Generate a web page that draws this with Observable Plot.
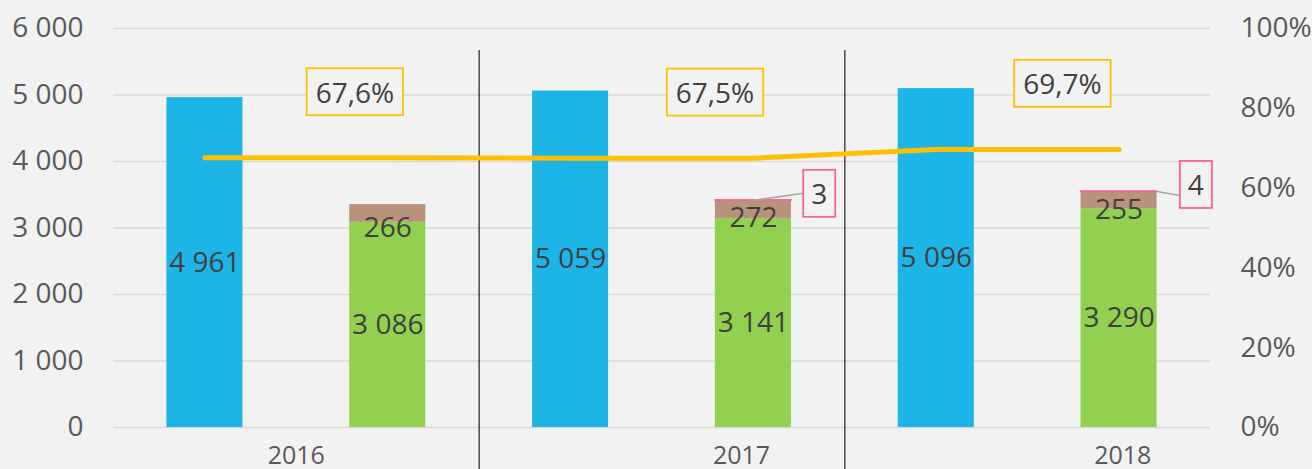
<!DOCTYPE html>
<html>
<head>
<meta charset="utf-8">
<script src="https://cdn.jsdelivr.net/npm/d3@7"></script>
<script src="https://cdn.jsdelivr.net/npm/@observablehq/plot@0.6"></script>
<style>
  html, body { margin: 0; padding: 0; background: #f2f2f2; }
  #chart { width: 1312px; height: 469px; overflow: hidden; }
</style>
</head>
<body>
<div id="chart"></div>
<script>
// ---- data ----
const years = ["2016", "2017", "2018"];
const blueValues = [4961, 5059, 5096];
const greenValues = [3086, 3141, 3290];
const brownValues = [266, 272, 255];
const pinkValues = [0, 3, 4];
const shareValues = [67.6, 67.5, 69.7];
const leftTicks = [0, 1000, 2000, 3000, 4000, 5000, 6000];
const rightTicks = [0, 20, 40, 60, 80, 100];

// ---- layout (not data) ----
const halfBar = 0.208;             // half bar width in slot units
const pctLabelShift = [-0.18, -0.21, -0.31];
const yearLabelShift = [-0.5, -0.065, 0.02];
const brownLabelDy = [15, 8.5, 10];
const pinkLabelShift = [0, 0.36, 0.42];
const yMax = 6000;
const pctToY = p => p / 100 * yMax;
const fmt = d => d3.format(",")(d).replace(/,/g, "\u00a0");

const W = 1312, H = 469, mL = 113, mR = 102, mT = 28, mB = 42;
const unitsPerPx = yMax / (H - mT - mB);

const blueRows = years.map((yr, i) => ({yr, c: 2 * i + 0.5, v: blueValues[i]}));
const stackRows = [];
years.forEach((yr, i) => {
  const c = 2 * i + 1.5;
  const g = greenValues[i], b = brownValues[i], p = pinkValues[i];
  stackRows.push({yr, c, s: "green", y1: 0, y2: g, v: g});
  stackRows.push({yr, c, s: "brown", y1: g, y2: g + b, v: b});
  if (p > 0) stackRows.push({yr, c, s: "pink", y1: g + b, y2: g + b + p, v: p});
});
const colors = {green: "#92d050", brown: "#b8927a", pink: "#f5668f"};
const linePts = [];
years.forEach((yr, i) => {
  linePts.push({x: 2 * i + 0.5, y: pctToY(shareValues[i])});
  linePts.push({x: 2 * i + 1.5, y: pctToY(shareValues[i])});
});
const pctLabels = years.map((yr, i) => ({x: 2 * i + 1.5 + pctLabelShift[i], y: pctToY(shareValues[i]), t: d3.format(".1f")(shareValues[i]).replace(".", ",") + "%"}));
const yearLabels = years.map((yr, i) => ({x: 2 * i + 1 + yearLabelShift[i] + 0.5, t: yr}));
const pinkLabels = years.map((yr, i) => ({i, yr, c: 2 * i + 1.5, top: greenValues[i] + brownValues[i] + pinkValues[i], v: pinkValues[i]})).filter(d => d.v > 0);

const plot = Plot.plot({
  width: W, height: H,
  marginLeft: mL, marginRight: mR, marginTop: mT, marginBottom: mB,
  style: {background: "#f2f2f2", fontFamily: "'Open Sans', sans-serif", fontSize: "28px", color: "#595959", overflow: "visible"},
  x: {domain: [0, 6], axis: null},
  y: {domain: [0, yMax]},
  marks: [
    Plot.ruleY(leftTicks, {stroke: "#d9d9d9", strokeWidth: 1.5}),
    Plot.axisY({anchor: "left", ticks: leftTicks, tickFormat: fmt, tickSize: 0, tickPadding: 30, label: null, fill: "#595959"}),
    Plot.axisY({anchor: "right", ticks: rightTicks.map(pctToY), tickFormat: d => Math.round(d / yMax * 100) + "%", tickSize: 0, tickPadding: 30, label: null, fill: "#595959"}),
    Plot.ruleX([2, 4], {stroke: "#222", strokeWidth: 1.2, insetTop: 22, insetBottom: -mB}),
    Plot.rect(blueRows, {x1: d => d.c - halfBar, x2: d => d.c + halfBar, y1: 0, y2: "v", fill: "#1db5e8"}),
    Plot.rect(stackRows, {x1: d => d.c - halfBar, x2: d => d.c + halfBar, y1: "y1", y2: "y2", fill: d => colors[d.s], stroke: d => d.s === "pink" ? colors.pink : "none", strokeWidth: 1.5}),
    Plot.line(linePts, {x: "x", y: "y", stroke: "#ffc000", strokeWidth: 5, strokeLinecap: "round"}),
    Plot.text(blueRows, {x: "c", y: d => d.v / 2, text: d => fmt(d.v), fill: "#404040", fontSize: 28}),
    Plot.text(stackRows.filter(d => d.s === "green"), {x: "c", y: d => d.v / 2, text: d => fmt(d.v), fill: "#404040", fontSize: 28}),
    Plot.text(stackRows.filter(d => d.s === "brown"), {x: "c", y: d => (d.y1 + d.y2) / 2 - brownLabelDy[years.indexOf(d.yr)] * unitsPerPx, text: d => fmt(d.v), fill: "#404040", fontSize: 28}),
    Plot.link(pinkLabels, {
      x1: d => d.i === 1 ? d.c : d.c + halfBar,
      y1: "top",
      x2: d => d.c + pinkLabelShift[d.i] - 0.088,
      y2: d => d.top + (d.i === 1 ? 7 : -4) * unitsPerPx,
      stroke: "#a6a6a6", strokeWidth: 1.5
    }),
    Plot.text(pinkLabels, {x: d => d.c + pinkLabelShift[d.i], y: "top", dy: -5, text: d => String(d.v), fill: "#404040", fontSize: 28}),
    Plot.text(pctLabels, {x: "x", y: "y", dy: -64, text: "t", fill: "#404040", fontSize: 28}),
    Plot.text(yearLabels, {x: "x", y: 0, dy: 28, text: "t", fill: "#595959", fontSize: 25})
  ]
});
document.getElementById("chart").appendChild(plot);

function boxLabels(texts, stroke, padX, padY) {
  const set = new Set(texts);
  d3.select(plot).selectAll("text").each(function() {
    if (this.querySelector("tspan") || !set.has(this.textContent)) return;
    const bb = this.getBBox();
    const r = document.createElementNS("http://www.w3.org/2000/svg", "rect");
    r.setAttribute("x", bb.x - padX);
    r.setAttribute("y", bb.y - padY);
    r.setAttribute("width", bb.width + 2 * padX);
    r.setAttribute("height", bb.height + 2 * padY);
    r.setAttribute("fill", "#f2f2f2");
    r.setAttribute("stroke", stroke);
    r.setAttribute("stroke-width", "1.8");
    const t = this.getAttribute("transform");
    if (t) r.setAttribute("transform", t);
    this.parentNode.insertBefore(r, this);
  });
}
boxLabels(pctLabels.map(d => d.t), "#ffc000", 9, 4.5);
boxLabels(pinkLabels.map(d => String(d.v)), "#f5668f", 8, 4.5);
</script>
</body>
</html>
